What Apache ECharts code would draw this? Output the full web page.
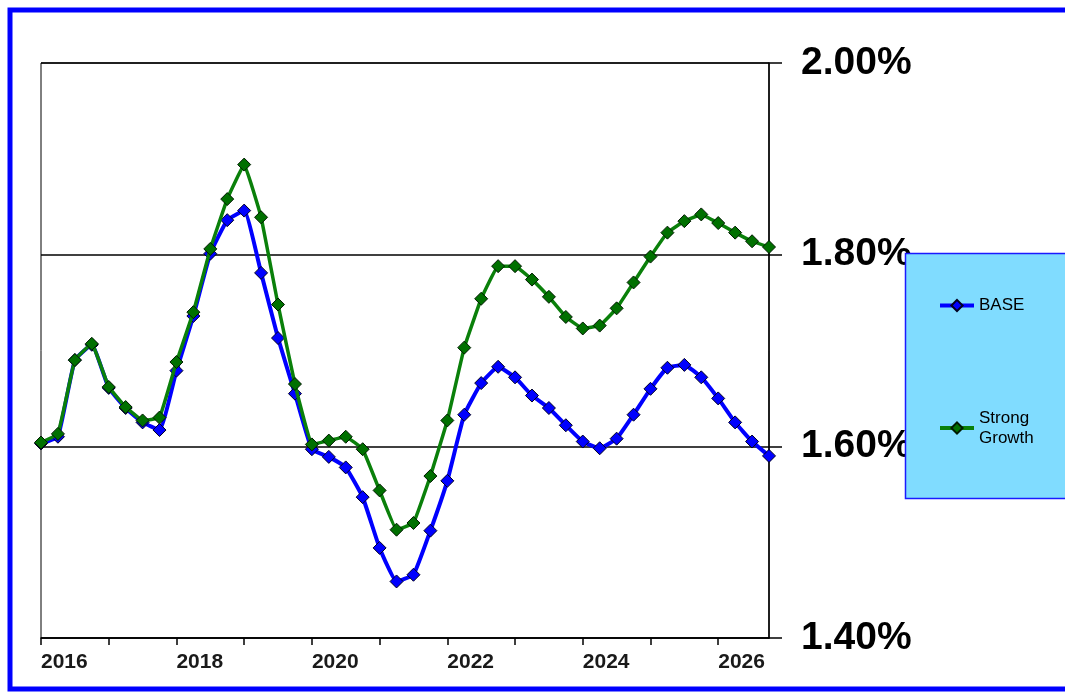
<!DOCTYPE html>
<html>
<head>
<meta charset="utf-8">
<script src="https://cdn.jsdelivr.net/npm/echarts@6/dist/echarts.min.js"></script>
<style>
  html, body { margin: 0; padding: 0; background: #ffffff; }
  #chart { width: 1065px; height: 694px; }
</style>
</head>
<body>
<div id="chart"></div>
<script>
// Quarterly observations, 2016 Q1 through 2026 Q4 (percent)
const years = [2016, 2017, 2018, 2019, 2020, 2021, 2022, 2023, 2024, 2025, 2026];
const quarters = ['Q1', 'Q2', 'Q3', 'Q4'];

const baseValues = [
  1.603, 1.610, 1.690, 1.706, 1.661, 1.640, 1.625, 1.617, 1.679, 1.736,
  1.801, 1.836, 1.846, 1.781, 1.713, 1.655, 1.597, 1.589, 1.578, 1.547,
  1.494, 1.459, 1.466, 1.512, 1.564, 1.633, 1.666, 1.683, 1.672, 1.653,
  1.640, 1.622, 1.605, 1.598, 1.608, 1.633, 1.660, 1.682, 1.685, 1.672,
  1.650, 1.625, 1.605, 1.590
];

const strongGrowthValues = [
  1.604, 1.613, 1.690, 1.707, 1.662, 1.641, 1.627, 1.630, 1.688, 1.740,
  1.806, 1.858, 1.894, 1.839, 1.748, 1.665, 1.602, 1.606, 1.610, 1.597,
  1.554, 1.513, 1.520, 1.569, 1.627, 1.703, 1.754, 1.788, 1.788, 1.774,
  1.756, 1.735, 1.723, 1.726, 1.744, 1.771, 1.798, 1.823, 1.835, 1.842,
  1.833, 1.823, 1.814, 1.808
];

const yTicks = { min: 1.4, max: 2.0, step: 0.2 };

const categories = [];
years.forEach(y => quarters.forEach(q => categories.push(y + ' ' + q)));

const chart = echarts.init(document.getElementById('chart'), null, { renderer: 'canvas' });

const axisFont = "'Liberation Sans', Arial, sans-serif";

chart.setOption({
  animation: false,
  backgroundColor: '#ffffff',
  grid: {
    left: 41, right: 296, top: 63, bottom: 56,
    show: true, borderColor: '#000000', borderWidth: 1,
    backgroundColor: 'transparent'
  },
  xAxis: {
    type: 'category',
    data: categories,
    boundaryGap: false,
    axisLine: { show: true, lineStyle: { color: '#000000', width: 1.5 } },
    axisTick: { show: true, interval: 3, length: 7, lineStyle: { color: '#000000', width: 1.5 } },
    splitLine: { show: false },
    axisLabel: {
      interval: 3,
      align: 'left',
      margin: 14,
      color: '#1a1a1a',
      fontFamily: axisFont,
      fontWeight: 'bold',
      fontSize: 21,
      formatter: function (v) {
        const y = parseInt(v, 10);
        return (v.endsWith('Q1') && y % 2 === 0) ? String(y) : '';
      }
    }
  },
  yAxis: {
    type: 'value',
    position: 'right',
    min: yTicks.min,
    max: yTicks.max,
    interval: yTicks.step,
    axisLine: { show: true, lineStyle: { color: '#000000', width: 1.5 } },
    axisTick: { show: true, length: 13, lineStyle: { color: '#000000', width: 1.5 } },
    splitLine: { show: true, lineStyle: { color: '#000000', width: 1.5 } },
    axisLabel: {
      margin: 32,
      color: '#000000',
      fontFamily: axisFont,
      fontWeight: 'bold',
      fontSize: 39,
      formatter: v => v.toFixed(2) + '%'
    }
  },
  legend: [
    {
      data: ['BASE'],
      orient: 'vertical',
      left: 938, top: 297,
      padding: 0,
      itemWidth: 34, itemHeight: 14, itemGap: 5,
      z: 60,
      lineStyle: { width: 4 },
      textStyle: { color: '#000000', fontFamily: axisFont, fontSize: 17 },
      selectedMode: false
    },
    {
      data: [{ name: 'Strong Growth', textStyle: { padding: [20, 0, 0, 0], lineHeight: 20 } }],
      orient: 'vertical',
      left: 938, top: 398,
      padding: 0,
      itemWidth: 34, itemHeight: 14, itemGap: 5,
      z: 60,
      lineStyle: { width: 4 },
      formatter: name => name.replace(' ', '\n'),
      textStyle: { color: '#000000', fontFamily: axisFont, fontSize: 17, lineHeight: 20 },
      selectedMode: false
    }
  ],
  graphic: [
    {
      // legend panel
      type: 'rect', z: 50,
      shape: { x: 905.5, y: 253.5, width: 200, height: 245 },
      style: { fill: '#80dcff', stroke: '#1a1aff', lineWidth: 1.5 }
    },
    {
      // outer frame
      type: 'rect', z: 40,
      shape: { x: 10, y: 10, width: 1100, height: 679 },
      style: { fill: 'none', stroke: '#0000ff', lineWidth: 5 }
    }
  ],
  series: [
    {
      name: 'BASE',
      type: 'line',
      data: baseValues,
      smooth: 0.12,
      symbol: 'diamond',
      symbolSize: 13,
      showAllSymbol: true,
      lineStyle: { color: '#0000ff', width: 4 },
      itemStyle: { color: '#0000ff', borderColor: '#000022', borderWidth: 1 },
      z: 3
    },
    {
      name: 'Strong Growth',
      type: 'line',
      data: strongGrowthValues,
      smooth: 0.08,
      symbol: 'diamond',
      symbolSize: 13,
      showAllSymbol: true,
      lineStyle: { color: '#0a800a', width: 3.5 },
      itemStyle: { color: '#007000', borderColor: '#001a00', borderWidth: 1 },
      z: 4
    }
  ]
});
</script>
</body>
</html>
